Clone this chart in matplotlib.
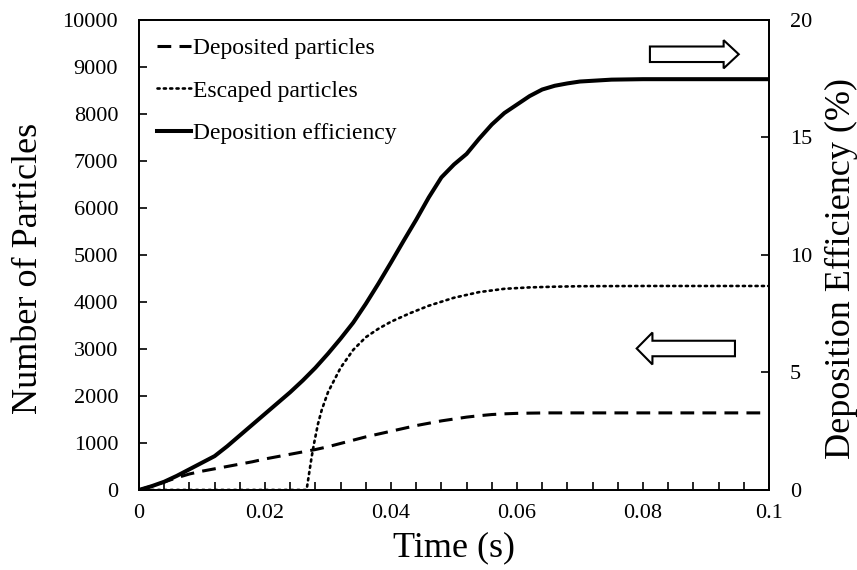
import matplotlib
matplotlib.use("Agg")
import matplotlib.pyplot as plt
from matplotlib.patches import FancyArrow
from matplotlib.ticker import MultipleLocator, FixedLocator

# Data
dep_time = [0, 0.002, 0.004, 0.006, 0.008, 0.010, 0.012, 0.014, 0.016, 0.018, 0.020,
            0.022, 0.024, 0.026, 0.028, 0.030, 0.032, 0.034, 0.036, 0.038, 0.040,
            0.042, 0.044, 0.046, 0.048, 0.050, 0.052, 0.054, 0.056, 0.058, 0.060,
            0.062, 0.065, 0.070, 0.080, 0.090, 0.100]
dep_particles = [0, 80, 170, 260, 340, 400, 450, 500, 550, 600, 660,
                 710, 760, 810, 860, 920, 990, 1060, 1130, 1190, 1250,
                 1310, 1370, 1420, 1470, 1510, 1550, 1580, 1605, 1620, 1630,
                 1635, 1640, 1640, 1640, 1640, 1640]

esc_time = [0, 0.0266, 0.0270, 0.0274, 0.0278, 0.0284, 0.029, 0.030, 0.032, 0.034,
            0.036, 0.038, 0.040, 0.043, 0.046, 0.050, 0.054, 0.058, 0.062, 0.066,
            0.070, 0.080, 0.090, 0.100]
esc_particles = [0, 0, 350, 700, 1000, 1400, 1700, 2080, 2600, 2980,
                 3250, 3430, 3580, 3760, 3920, 4090, 4210, 4280, 4310, 4325,
                 4335, 4340, 4340, 4340]

eff_time = [0, 0.002, 0.004, 0.006, 0.008, 0.010, 0.012, 0.014, 0.016, 0.018, 0.020,
            0.022, 0.024, 0.026, 0.028, 0.030, 0.032, 0.034, 0.036, 0.038, 0.040,
            0.042, 0.044, 0.046, 0.048, 0.050, 0.052, 0.054, 0.056, 0.058, 0.060,
            0.062, 0.064, 0.066, 0.068, 0.070, 0.075, 0.080, 0.090, 0.100]
eff_percent = [0, 0.16, 0.35, 0.6, 0.88, 1.16, 1.44, 1.86, 2.32, 2.78, 3.24,
               3.7, 4.16, 4.66, 5.2, 5.8, 6.44, 7.12, 7.92, 8.78, 9.68,
               10.6, 11.5, 12.45, 13.3, 13.85, 14.3, 14.95, 15.55, 16.04, 16.4,
               16.76, 17.04, 17.2, 17.3, 17.38, 17.46, 17.48, 17.48, 17.48]

x_ticks = [0, 0.02, 0.04, 0.06, 0.08, 0.1]
x_labels = ["0", "0.02", "0.04", "0.06", "0.08", "0.1"]
left_ticks = list(range(0, 10001, 1000))
right_ticks = [0, 5, 10, 15, 20]

plt.rcParams["font.family"] = ["Liberation Serif", "DejaVu Serif"]

fig = plt.figure(figsize=(8.57, 5.70), dpi=100)
ax = fig.add_axes([0.1622, 0.1404, 0.7351, 0.8246])
ax2 = ax.twinx()

l1, = ax.plot(dep_time, dep_particles, color="black", lw=2.2,
              linestyle=(0, (4.5, 2.7)), label="Deposited particles")
l2, = ax.plot(esc_time, esc_particles, color="black", lw=1.9,
              linestyle=(0, (0.8, 1.6)), dash_capstyle="round", label="Escaped particles")
l3, = ax2.plot(eff_time, eff_percent, color="black", lw=2.9, label="Deposition efficiency")

ax.set_xlim(0, 0.1)
ax.set_ylim(0, 10000)
ax2.set_ylim(0, 20)

ax.xaxis.set_major_locator(FixedLocator(x_ticks))
ax.set_xticklabels(x_labels)
ax.xaxis.set_minor_locator(MultipleLocator(0.004))
ax.set_yticks(left_ticks)
ax2.set_yticks(right_ticks)

ax.tick_params(axis="both", which="both", direction="in", labelsize=16, width=1.2)
ax.tick_params(axis="x", which="both", length=6, pad=10)
ax.tick_params(axis="y", length=6, pad=15)
ax2.tick_params(axis="y", direction="in", length=6, width=1.2, labelsize=16, pad=15)

for a in (ax, ax2):
    for s in a.spines.values():
        s.set_linewidth(1.3)

ax.set_xlabel("Time (s)", fontsize=26, labelpad=6)
ax.set_ylabel("Number of Particles", fontsize=26)
ax2.set_ylabel("Deposition Efficiency (%)", fontsize=26)
ax.yaxis.set_label_coords(-0.149, 0.472)
ax2.yaxis.set_label_coords(1.089, 0.472)

ax.legend(handles=[l1, l2, l3], loc="upper left", bbox_to_anchor=(0.028, 0.962),
          frameon=False, fontsize=17, handlelength=1.45, handletextpad=0.1,
          labelspacing=0.88, borderpad=0, borderaxespad=0)

# open block arrows pointing to each axis
ax.add_patch(FancyArrow(0.811, 0.927, 0.141, 0, width=0.033, head_width=0.060,
                        head_length=0.024, length_includes_head=True,
                        transform=ax.transAxes, facecolor="white",
                        edgecolor="black", lw=1.5, zorder=5))
ax.add_patch(FancyArrow(0.946, 0.301, -0.156, 0, width=0.033, head_width=0.068,
                        head_length=0.025, length_includes_head=True,
                        transform=ax.transAxes, facecolor="white",
                        edgecolor="black", lw=1.5, zorder=5))

fig.savefig("out.png", dpi=100)
